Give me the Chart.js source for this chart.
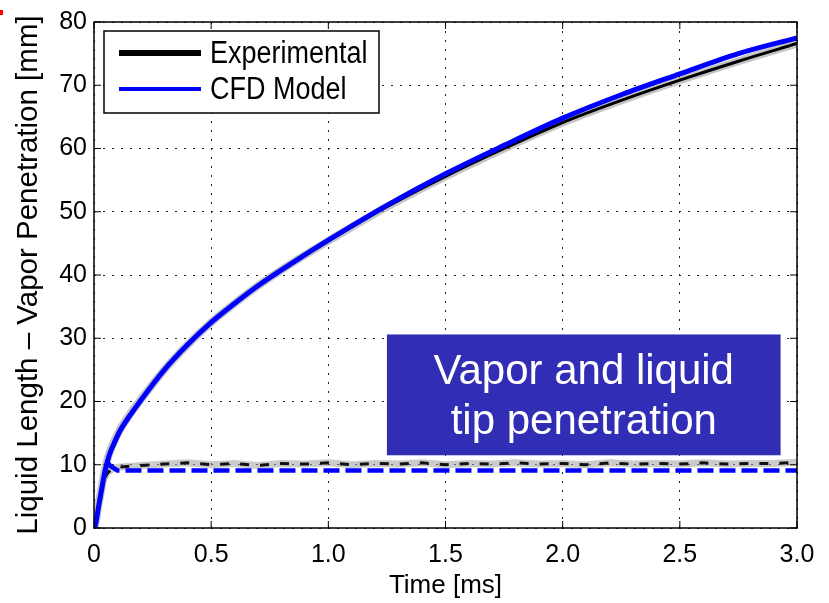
<!DOCTYPE html>
<html>
<head>
<meta charset="utf-8">
<script src="https://cdn.jsdelivr.net/npm/chart.js@4.4.1/dist/chart.umd.min.js"></script>
<style>
  html, body { margin: 0; padding: 0; background: #fff; }
  #wrap { width: 829px; height: 603px; }
</style>
</head>
<body>
<div id="wrap"><canvas id="penChart" width="829" height="603"></canvas></div>
<script>
(function(){
  // vapor penetration [mm] vs time [ms]
  var cfdVaporT = [0, 0.005, 0.02, 0.035, 0.05, 0.065, 0.085, 0.11, 0.15, 0.2, 0.3, 0.4, 0.5, 0.6, 0.7, 0.85, 1.0, 1.25, 1.5, 1.75, 2.0, 2.25, 2.5, 2.75, 3.0];
  var cfdVapor  = [0, 0.3, 3.5, 6.6, 9.5, 11.5, 13.3, 15.3, 17.6, 20.2, 25.0, 29.0, 32.5, 35.5, 38.3, 42.0, 45.5, 51.0, 56.0, 60.5, 64.8, 68.5, 71.8, 75.0, 77.5];
  var expVaporT = [0, 0.005, 0.02, 0.035, 0.05, 0.065, 0.085, 0.11, 0.15, 0.2, 0.3, 0.4, 0.5, 0.6, 0.7, 0.85, 1.0, 1.25, 1.5, 1.75, 2.0, 2.25, 2.5, 2.75, 3.0];
  var expVapor  = [0, 0.5, 3.8, 6.9, 9.8, 11.8, 13.6, 15.5, 17.8, 20.3, 25.0, 29.0, 32.5, 35.5, 38.3, 42.0, 45.4, 50.8, 55.6, 60.0, 64.1, 67.6, 70.8, 73.8, 76.6];

  // liquid length [mm]
  var cfdLiquidT = [0.055, 0.07, 0.1, 0.3, 0.6, 1.0, 1.5, 2.0, 2.5, 3.0];
  var cfdLiquid  = [10.5, 9.8, 9.1, 9.1, 9.1, 9.1, 9.1, 9.1, 9.1, 9.1];
  var expLiquidT = [0.045, 0.06, 0.08, 0.1, 0.2, 0.3, 0.4, 0.5, 0.6, 0.7, 0.8, 0.9, 1.0, 1.1, 1.2, 1.3, 1.4, 1.5, 1.6, 1.7, 1.8, 1.9, 2.0, 2.1, 2.2, 2.3, 2.4, 2.5, 2.6, 2.7, 2.8, 2.9, 3.0];
  var expLiquid  = [8.0, 8.8, 9.4, 9.6, 9.9, 10.1, 10.3, 10.0, 10.2, 9.9, 10.2, 10.1, 10.3, 10.0, 10.2, 10.1, 10.3, 10.0, 10.2, 10.1, 10.3, 10.1, 10.2, 10.0, 10.3, 10.1, 10.2, 10.1, 10.3, 10.1, 10.2, 10.2, 10.4];

  var xTickLabels = ['0', '0.5', '1.0', '1.5', '2.0', '2.5', '3.0'];
  var yTicks = [0, 10, 20, 30, 40, 50, 60, 70, 80];
  var legendNames = ['Experimental', 'CFD Model'];
  var noteLines = ['Vapor and liquid', 'tip penetration'];

  var FONT = '"Liberation Sans", Arial, Helvetica, sans-serif';

  function pts(xs, ys){
    return xs.map(function(x, i){ return { x: x, y: ys[i] }; });
  }

  var framePlugin = {
    id: 'frame',
    afterDatasetsDraw: function(chart){
      var ctx = chart.ctx;
      var a = chart.chartArea;
      var xs = chart.scales.x, ys = chart.scales.y;
      ctx.save();
      // note box
      var bx = xs.getPixelForValue(1.25), bx2 = xs.getPixelForValue(2.93);
      var by = ys.getPixelForValue(30.6), by2 = ys.getPixelForValue(11.5);
      ctx.fillStyle = '#312db5';
      ctx.fillRect(bx, by, bx2 - bx, by2 - by);
      ctx.fillStyle = '#ffffff';
      ctx.font = '42px ' + FONT;
      ctx.textAlign = 'center';
      ctx.textBaseline = 'alphabetic';
      var cx = (bx + bx2) / 2;
      ctx.fillText(noteLines[0], cx, by + 50);
      ctx.fillText(noteLines[1], cx, by + 100);

      // box frame
      ctx.strokeStyle = '#000';
      ctx.lineWidth = 1.5;
      ctx.setLineDash([]);
      ctx.strokeRect(a.left, a.top, a.right - a.left, a.bottom - a.top);
      // inward tick marks
      ctx.lineWidth = 1;
      ctx.beginPath();
      xs.ticks.forEach(function(t){
        var px = xs.getPixelForValue(t.value);
        ctx.moveTo(px, a.bottom); ctx.lineTo(px, a.bottom - 7);
        ctx.moveTo(px, a.top); ctx.lineTo(px, a.top + 7);
      });
      ys.ticks.forEach(function(t){
        var py = ys.getPixelForValue(t.value);
        ctx.moveTo(a.left, py); ctx.lineTo(a.left + 7, py);
        ctx.moveTo(a.right, py); ctx.lineTo(a.right - 7, py);
      });
      ctx.stroke();

      // legend
      var lx = a.left + 10, ly = a.top + 9, lw = 275, lh = 82;
      ctx.fillStyle = '#fff';
      ctx.fillRect(lx, ly, lw, lh);
      ctx.strokeStyle = '#000';
      ctx.lineWidth = 1.5;
      ctx.strokeRect(lx, ly, lw, lh);
      var sets = [chart.data.datasets[3], chart.data.datasets[1]];
      ctx.font = '27px ' + FONT;
      ctx.textAlign = 'left';
      ctx.textBaseline = 'middle';
      sets.forEach(function(ds, i){
        var yy = ly + 22 + i * 36;
        ctx.strokeStyle = ds.borderColor;
        ctx.lineWidth = i === 0 ? 6 : 4;
        ctx.beginPath();
        ctx.moveTo(lx + 15, yy);
        ctx.lineTo(lx + 97, yy);
        ctx.stroke();
        ctx.fillStyle = '#000';
        ctx.save();
        ctx.translate(lx + 106, yy + 1);
        ctx.scale(1, 1.18);
        ctx.fillText(legendNames[i], 0, 0);
        ctx.restore();
      });

      // small red mark at the corner
      ctx.fillStyle = '#ff0000';
      ctx.fillRect(0, 10, 3, 5);
      ctx.restore();
    }
  };

  var ctxEl = document.getElementById('penChart');
  new Chart(ctxEl, {
    type: 'line',
    data: {
      datasets: [
        {
          label: 'CFD liquid',
          data: pts(cfdLiquidT, cfdLiquid),
          borderColor: '#0000ff',
          borderWidth: 4.5,
          borderDash: [16, 6],
          pointRadius: 0,
          order: 2
        },
        {
          label: 'CFD vapor',
          data: pts(cfdVaporT, cfdVapor),
          borderColor: '#0000ff',
          borderWidth: 5,
          pointRadius: 0,
          cubicInterpolationMode: 'monotone',
          order: 1
        },
        {
          label: 'Exp liquid',
          data: pts(expLiquidT, expLiquid),
          borderColor: '#111111',
          borderWidth: 3,
          borderDash: [9, 11],
          pointRadius: 0,
          order: 4
        },
        {
          label: 'Exp vapor',
          data: pts(expVaporT, expVapor),
          borderColor: '#000000',
          borderWidth: 3,
          pointRadius: 0,
          cubicInterpolationMode: 'monotone',
          order: 3
        },
        {
          label: 'Exp liquid band',
          data: pts(expLiquidT, expLiquid),
          borderColor: 'rgba(160,160,160,0.55)',
          borderWidth: 7,
          pointRadius: 0,
          order: 6
        },
        {
          label: 'Exp vapor band',
          data: pts(expVaporT, expVapor),
          borderColor: 'rgba(150,150,150,0.55)',
          borderWidth: 8,
          pointRadius: 0,
          cubicInterpolationMode: 'monotone',
          order: 5
        }
      ]
    },
    options: {
      responsive: false,
      animation: false,
      layout: { padding: { left: 0, top: 16, right: 32, bottom: 0 } },
      plugins: {
        legend: { display: false },
        tooltip: { enabled: false }
      },
      scales: {
        x: {
          type: 'linear',
          min: 0,
          max: 3,
          afterFit: function(s){ s.height = 75; },
          ticks: {
            stepSize: 0.5,
            padding: 12,
            color: '#000',
            font: { family: FONT, size: 25 },
            callback: function(v){ return xTickLabels[Math.round(v / 0.5)]; }
          },
          grid: { color: '#222', lineWidth: 1, drawTicks: false },
          border: { display: false, dash: [2, 7] },
          title: {
            display: true,
            text: 'Time [ms]',
            color: '#000',
            font: { family: FONT, size: 26 },
            padding: { top: 0, bottom: 2 }
          }
        },
        y: {
          min: 0,
          max: 80,
          afterFit: function(s){ s.width = 94; },
          afterBuildTicks: function(s){ s.ticks = yTicks.map(function(v){ return { value: v }; }); },
          ticks: {
            padding: 7,
            color: '#000',
            font: { family: FONT, size: 25 }
          },
          grid: { color: '#222', lineWidth: 1, drawTicks: false },
          border: { display: false, dash: [2, 7] },
          title: {
            display: true,
            text: 'Liquid Length \u2013 Vapor Penetration [mm]',
            color: '#000',
            font: { family: FONT, size: 29.5 },
            padding: { top: 11, bottom: 0 }
          }
        }
      }
    },
    plugins: [framePlugin]
  });
})();
</script>
</body>
</html>
